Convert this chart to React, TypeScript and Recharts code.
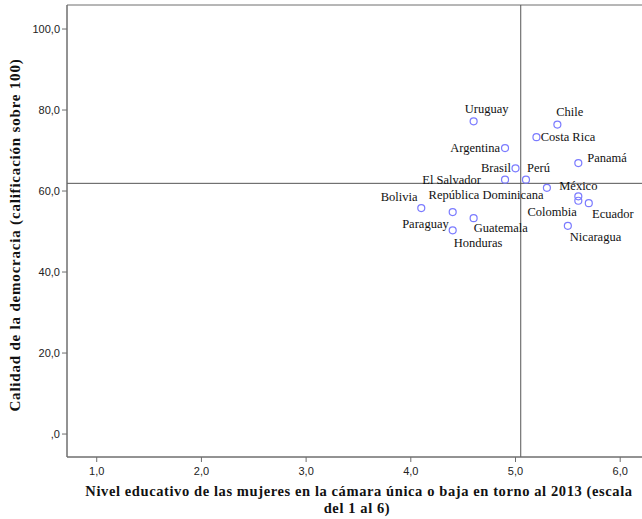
import React from "react";
import {
  ScatterChart,
  Scatter,
  XAxis,
  YAxis,
  ReferenceLine,
  ReferenceArea,
} from "recharts";

const countries = [
  "Uruguay", "Chile", "Costa Rica", "Argentina", "Panamá", "Brasil",
  "El Salvador", "Perú", "República Dominicana", "México", "Colombia",
  "Ecuador", "Bolivia", "Paraguay", "Guatemala", "Nicaragua", "Honduras",
];
const education = [4.6, 5.4, 5.2, 4.9, 5.6, 5.0, 4.9, 5.1, 5.3, 5.6, 5.6, 5.7, 4.1, 4.4, 4.6, 5.5, 4.4];
const democracy = [77.2, 76.4, 73.3, 70.6, 66.9, 65.6, 62.8, 62.8, 60.8, 58.7, 57.6, 57.0, 55.8, 54.8, 53.3, 51.4, 50.3];

const xTicks = [1, 2, 3, 4, 5, 6];
const yTicks = [0, 20, 40, 60, 80, 100];
const meanEducation = 5.05;
const meanDemocracy = 61.9;

const X_DOMAIN: [number, number] = [0.716, 6.256];
const Y_DOMAIN: [number, number] = [-5.67, 105.93];

// where each country's name sits relative to its point
const LABEL_LAYOUT: Record<string, [string, number, number]> = {
  Uruguay: ["middle", 13, -8.3],
  Chile: ["middle", 12.4, -9],
  "Costa Rica": ["start", 4.3, 4],
  Argentina: ["end", -5, 4],
  "Panamá": ["start", 9, -1],
  Brasil: ["end", -4.6, 4],
  "Perú": ["start", 1, -8],
  "El Salvador": ["end", -24, 4],
  "República Dominicana": ["end", -3.4, 11.6],
  "México": ["middle", 0, -6.3],
  Colombia: ["end", -1.6, 15],
  Ecuador: ["start", 3.3, 15],
  Bolivia: ["end", -3.7, -6.7],
  Paraguay: ["end", -4, 16],
  Guatemala: ["start", 0, 13.7],
  Nicaragua: ["start", 2, 14.7],
  Honduras: ["start", 1, 17],
};

const data = countries.map((name, i) => ({ name, x: education[i], y: democracy[i] }));

const fmt = (v: number) => {
  const s = v.toFixed(1).replace(".", ",");
  return s.startsWith("0") ? s.slice(1) : s;
};

const serif = "'Liberation Serif', 'Times New Roman', serif";

const PointWithLabel = (props: any) => {
  const { cx, cy, payload } = props;
  const [anchor, dx, dy] = LABEL_LAYOUT[payload.name] || ["start", 4, 4];
  return (
    <g>
      <circle cx={cx} cy={cy} r={3.5} fill="none" stroke="#7b7bff" strokeWidth={1.2} />
      <text
        x={cx + dx}
        y={cy + dy}
        textAnchor={anchor}
        fontFamily={serif}
        fontSize={12.5}
        fill="#111"
      >
        {payload.name}
      </text>
    </g>
  );
};

const tickStyle = { fill: "#222", fontSize: 11, fontFamily: "'Liberation Sans', Arial, sans-serif" };

export default function App() {
  return (
    <div
      style={{
        position: "fixed",
        left: 0,
        top: 0,
        width: 642,
        height: 519,
        overflow: "hidden",
        background: "#fff",
      }}
    >
      <ScatterChart width={652} height={519} margin={{ top: 5, right: 5, bottom: 0, left: 0 }}>
        <XAxis
          type="number"
          dataKey="x"
          domain={X_DOMAIN}
          ticks={xTicks}
          tickFormatter={fmt}
          allowDataOverflow
          height={62}
          tickSize={5}
          tickMargin={5}
          tick={tickStyle}
          axisLine={{ stroke: "#6e6e6e" }}
          tickLine={{ stroke: "#6e6e6e" }}
          label={{
            content: () => (
              <g fontFamily={serif} fontWeight="bold" fontSize={14.5} letterSpacing={0.6} fill="#111">
                <text x={359} y={496} textAnchor="middle">
                  Nivel educativo de las mujeres en la cámara única o baja en torno al 2013 (escala
                </text>
                <text x={357} y={513} textAnchor="middle">
                  del 1 al 6)
                </text>
              </g>
            ),
          }}
        />
        <YAxis
          type="number"
          dataKey="y"
          domain={Y_DOMAIN}
          ticks={yTicks}
          tickFormatter={fmt}
          allowDataOverflow
          width={67}
          tickSize={5}
          tickMargin={2}
          tick={tickStyle}
          axisLine={{ stroke: "#6e6e6e" }}
          tickLine={{ stroke: "#6e6e6e" }}
          label={{
            content: () => (
              <text
                x={20}
                y={235}
                transform="rotate(-90, 20, 235)"
                textAnchor="middle"
                fontFamily={serif}
                fontWeight="bold"
                fontSize={15}
                letterSpacing={0.8}
                fill="#111"
              >
                Calidad de la democracia (calificación sobre 100)
              </text>
            ),
          }}
        />
        <ReferenceArea
          x1={X_DOMAIN[0]}
          x2={X_DOMAIN[1]}
          y1={Y_DOMAIN[0]}
          y2={Y_DOMAIN[1]}
          fill="none"
          stroke="#6e6e6e"
          strokeWidth={1}
          ifOverflow="extendDomain"
        />
        <ReferenceLine x={meanEducation} stroke="#555" strokeWidth={1} />
        <ReferenceLine y={meanDemocracy} stroke="#555" strokeWidth={1} />
        <Scatter data={data} shape={PointWithLabel} isAnimationActive={false} />
      </ScatterChart>
    </div>
  );
}
